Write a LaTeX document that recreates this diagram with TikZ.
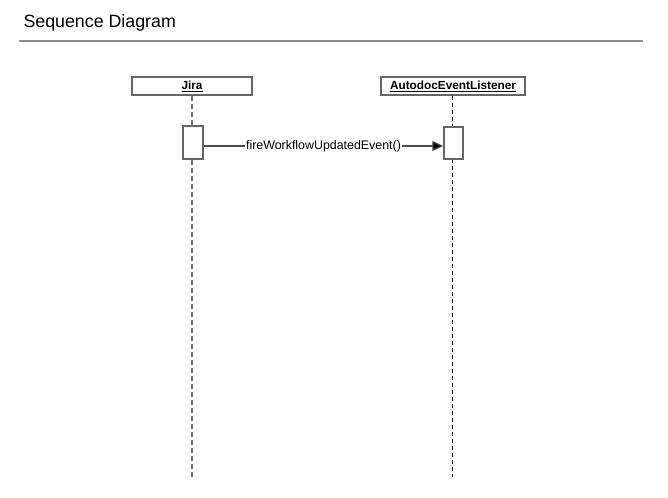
\documentclass[tikz,border=0pt]{standalone}
\usepackage{fontspec}
\setmainfont{Liberation Sans}
\usetikzlibrary{
  arrows.meta
}
\tikzset{
  object head/.style={
    draw=black!60,
    line width=1.4pt,
    fill=white,
    minimum width=120pt,
    minimum height=18pt,
    inner sep=0pt,
    font=\fontsize{11.8}{13}\selectfont\bfseries
  },
  activation/.style={
    draw=black!60,
    line width=1.4pt,
    fill=white,
    minimum width=20pt,
    minimum height=33pt,
    inner sep=0pt
  },
  lifeline/.style={
    dashed
  },
  message/.style={
    draw=black!70,
    line width=1.2pt,
    -{Triangle[length=11pt,width=10pt,fill=black]}
  },
  message label/.style={
    fill=white,
    inner sep=1.5pt,
    font=\fontsize{12.4}{14}\selectfont
  }
}

\begin{document}
\begin{tikzpicture}[x=1pt,y=-1pt]
    \useasboundingbox (0,0) rectangle (668,497);

    % ---------- 見出し ----------
    \node[anchor=west,font=\fontsize{17.8}{20}\selectfont]
      (title) at (20,22.5) {Sequence Diagram};
    \draw[black!45,line width=2pt] (19,41) -- (643,41);

    % ---------- オブジェクト ----------
    \node[object head] (jira) at (192,86) {\underline{Jira}};
    \node[object head,minimum width=144pt]
      (listener) at (453,86) {\underline{AutodocEventListener}};

    % ライフライン
    \coordinate (jira end) at (192,477);
    \coordinate (listener end) at (452.5,477);
    \draw[lifeline,black!55,line width=2.2pt,
      dash pattern=on 5pt off 3pt]
      (jira.south) -- (jira end);
    \draw[lifeline,black,line width=1pt,
      dash pattern=on 4pt off 3pt]
      (listener.south -| listener end) -- (listener end);

    % 活性区間
    \node[activation] (jira act) at (193,142.5) {};
    \node[activation,minimum width=19pt,minimum height=32pt]
      (listener act) at (453.5,143) {};

    % メッセージ
    \draw[message]
      (jira act.east |- 0,146) -- (listener act.west |- 0,146)
      node[midway,message label] (fire) {fireWorkflowUpdatedEvent()};

  \end{tikzpicture}
\end{document}
